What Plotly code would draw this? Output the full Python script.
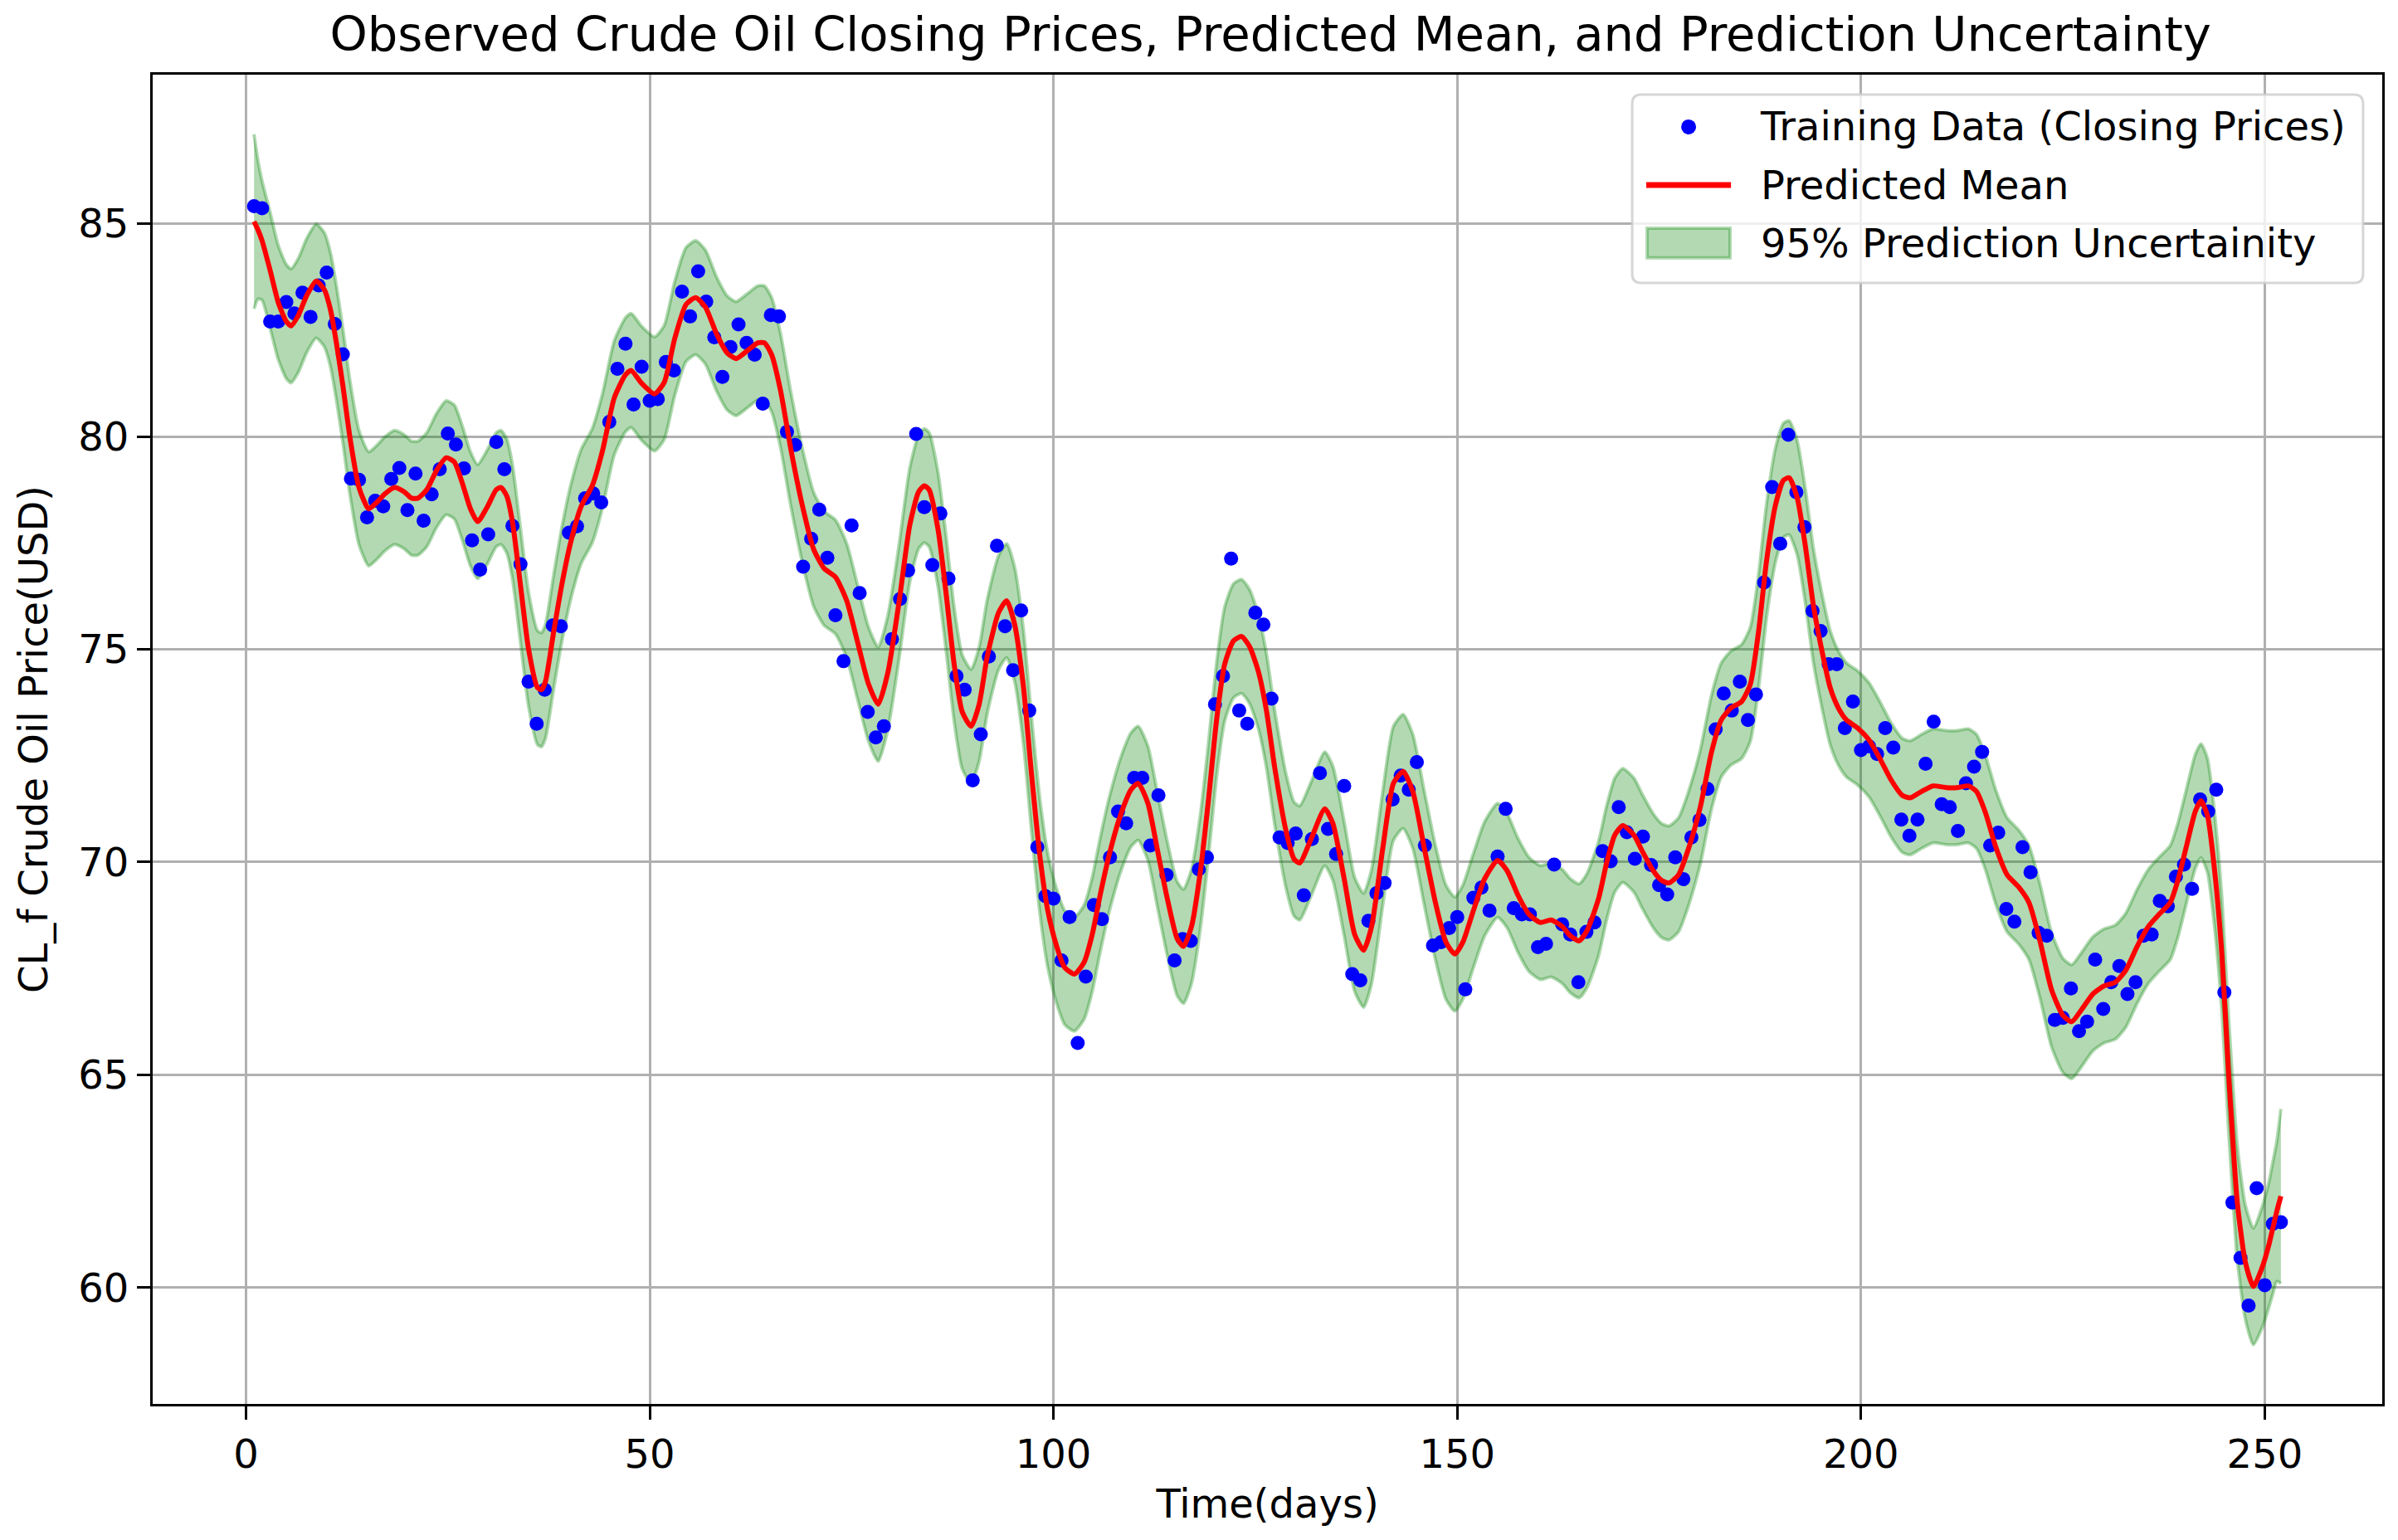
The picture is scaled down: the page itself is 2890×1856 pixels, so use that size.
import plotly.graph_objects as go

# ---------------- data ----------------
obs_days = list(range(1, 253))
obs_close = [
    85.41, 85.36, 82.70, 82.70, 83.16, 82.89, 83.38, 82.81, 83.55, 83.85,
    82.64, 81.93, 79.01, 78.98, 78.10, 78.49, 78.36, 79.00, 79.26, 78.27,
    79.13, 78.02, 78.64, 79.23, 80.07, 79.81, 79.25, 77.56, 76.87, 77.70,
    79.87, 79.23, 77.90, 77.00, 74.24, 73.25, 74.05, 75.56, 75.54, 77.74,
    77.89, 78.55, 78.66, 78.45, 80.34, 81.59, 82.18, 80.75, 81.64, 80.84,
    80.88, 81.75, 81.55, 83.40, 82.82, 83.88, 83.17, 82.33, 81.40, 82.10,
    82.63, 82.20, 81.92, 80.77, 82.85, 82.82, 80.11, 79.80, 76.94, 77.60,
    78.28, 77.15, 75.80, 74.72, 77.91, 76.32, 73.53, 72.93, 73.19, 75.24,
    76.18, 76.85, 80.06, 78.34, 76.98, 78.19, 76.66, 74.37, 74.05, 71.92,
    73.00, 74.83, 77.43, 75.54, 74.51, 75.91, 73.56, 70.35, 69.20, 69.14,
    67.69, 68.71, 65.75, 67.31, 68.99, 68.66, 70.11, 71.19, 70.91, 71.98,
    71.98, 70.39, 71.57, 69.70, 67.69, 68.19, 68.15, 69.83, 70.11, 73.71,
    74.37, 77.13, 73.56, 73.25, 75.86, 75.58, 73.84, 70.58, 70.45, 70.67,
    69.22, 70.54, 72.09, 70.78, 70.19, 71.79, 67.37, 67.22, 68.62, 69.27,
    69.51, 71.47, 72.03, 71.70, 72.35, 70.39, 68.04, 68.12, 68.45, 68.71,
    67.01, 69.16, 69.40, 68.86, 70.13, 71.25, 68.92, 68.77, 68.77, 68.00,
    68.08, 69.94, 68.54, 68.30, 67.18, 68.36, 68.58, 70.26, 70.02, 71.29,
    70.70, 70.08, 70.60, 69.93, 69.46, 69.24, 70.11, 69.60, 70.58, 70.99,
    71.72, 73.12, 73.96, 73.56, 74.24, 73.34, 73.94, 76.57, 78.81, 77.48,
    80.04, 78.69, 77.87, 75.90, 75.43, 74.65, 74.65, 73.15, 73.77, 72.63,
    72.72, 72.54, 73.15, 72.69, 71.00, 70.62, 71.00, 72.31, 73.30, 71.36,
    71.29, 70.73, 71.85, 72.24, 72.59, 70.39, 70.69, 68.90, 68.60, 70.35,
    69.76, 68.34, 68.27, 66.29, 66.34, 67.03, 66.03, 66.25, 67.71, 66.55,
    67.18, 67.56, 66.90, 67.18, 68.27, 68.30, 69.09, 68.96, 69.66, 69.94,
    69.37, 71.47, 71.19, 71.70, 66.94, 62.00, 60.70, 59.58, 62.34, 60.06,
    61.50, 61.54,
]

pred_days = [
    1.0, 1.5, 2.0, 3.0, 4.0, 5.0, 5.6, 6.5, 7.5, 8.7, 9.7, 10.5, 11.2, 12.0, 12.9,
    14.0, 15.2, 16.2, 17.2, 18.4, 19.6, 20.5, 21.3, 22.4, 23.6, 24.8, 25.8, 26.8,
    27.8, 28.7, 29.9, 31.0, 31.6, 32.3, 33.0, 34.0, 35.0, 36.1, 36.6, 37.1, 38.1,
    39.1, 40.2, 41.5, 42.9, 44.2, 45.6, 47.0, 47.7, 49.0, 50.6, 51.8, 53.1, 54.5,
    55.7, 56.9, 58.3, 59.6, 60.7, 62.0, 63.4, 64.2, 65.1, 66.2, 67.5, 68.9, 70.3,
    71.6, 73.0, 74.4, 75.7, 77.1, 78.3, 79.5, 80.9, 82.2, 83.3, 84.0, 84.6, 85.7,
    86.7, 87.7, 88.7, 89.8, 90.8, 91.8, 93.2, 94.2, 95.2, 96.3, 97.3, 98.3, 99.3,
    100.4, 101.4, 102.6, 103.8, 104.8, 105.8, 106.9, 108.3, 109.6, 110.5, 111.7,
    112.9, 114.1, 115.3, 116.1, 117.1, 118.2, 119.2, 120.2, 121.2, 122.3, 123.3,
    124.3, 125.4, 126.4, 127.4, 128.8, 129.8, 130.5, 131.9, 133.6, 134.6, 136.0,
    137.3, 138.4, 139.4, 140.8, 142.1, 143.3, 144.5, 145.9, 147.3, 148.6, 149.7,
    150.7, 152.0, 153.4, 155.0, 156.2, 157.5, 158.9, 160.3, 161.6, 163.0, 164.0,
    165.1, 166.1, 167.5, 168.5, 169.5, 170.5, 171.9, 172.9, 174.3, 175.3, 176.2,
    177.4, 178.7, 180.1, 181.5, 182.7, 183.9, 185.2, 186.3, 187.3, 188.3, 189.4,
    190.4, 191.1, 192.1, 193.1, 194.1, 195.2, 196.2, 197.2, 198.2, 199.6, 201.0,
    202.4, 203.7, 205.1, 206.1, 207.5, 208.9, 210.6, 211.9, 213.3, 214.3, 215.4,
    216.7, 218.1, 219.5, 220.8, 222.2, 223.6, 225.0, 226.1, 227.3, 228.7, 230.1,
    231.5, 232.8, 234.2, 235.6, 236.9, 238.3, 239.3, 240.4, 241.4, 242.1, 242.9,
    243.8, 244.7, 245.5, 246.0, 246.6, 247.6, 248.6, 249.7, 250.5, 251.0, 251.5,
    252.0,
]
pred_mean = [
    85.05, 84.85, 84.60, 83.90, 83.15, 82.70, 82.60, 82.85, 83.30, 83.65, 83.45, 82.95, 82.20, 81.20, 79.95,
    78.80, 78.30, 78.45, 78.65, 78.80, 78.70, 78.55, 78.55, 78.75, 79.20, 79.50, 79.40, 78.90,
    78.30, 78.00, 78.35, 78.75, 78.80, 78.60, 78.00, 76.50, 75.00, 74.10, 74.05, 74.25, 75.40,
    76.50, 77.50, 78.35, 78.85, 79.70, 80.90, 81.45, 81.55, 81.25, 81.00, 81.27, 82.30, 83.10,
    83.26, 83.04, 82.40, 81.96, 81.83, 82.00, 82.20, 82.20, 81.92, 81.08, 79.68, 78.38, 77.35,
    76.90, 76.70, 76.14, 75.20, 74.18, 73.71, 74.46, 76.14, 77.91, 78.70, 78.84, 78.75, 77.82,
    76.32, 74.65, 73.53, 73.19, 73.71, 74.83, 75.86, 76.14, 75.58, 74.09, 72.03, 70.17, 68.86,
    68.02, 67.52, 67.37, 67.65, 68.30, 69.24, 70.17, 71.10, 71.70, 71.85, 71.38,
    70.26, 69.14, 68.21, 68.02, 68.49, 69.79, 71.47, 73.34, 74.65, 75.20, 75.30,
    75.06, 74.46, 73.53, 72.22, 70.73, 70.07, 69.98, 70.54, 71.25, 70.91, 69.61,
    68.30, 67.93, 68.49, 70.35, 71.85, 72.13, 71.66, 70.35, 69.05, 68.12, 67.84,
    68.12, 68.86, 69.61, 70.04, 69.79, 69.23, 68.77, 68.58, 68.64, 68.49, 68.27,
    68.15, 68.40, 69.14, 69.98, 70.63, 70.86, 70.63, 70.26, 69.79, 69.57, 69.51,
    69.70, 70.35, 71.29, 72.59, 73.34, 73.62, 73.77, 74.18, 75.39, 77.07, 78.38,
    78.97, 79.03, 78.56, 77.44, 76.04, 74.93, 74.09, 73.62, 73.34, 73.15, 72.87,
    72.41, 71.94, 71.57, 71.51, 71.66, 71.79, 71.75, 71.75, 71.79, 71.66, 71.17,
    70.35, 69.70, 69.42, 69.05, 68.12, 67.00, 66.40, 66.25, 66.53, 66.90, 67.09,
    67.18, 67.46, 68.02, 68.49, 68.77, 69.05, 69.61, 70.45, 71.19, 71.44, 71.10,
    69.79, 67.80, 65.10, 63.60, 62.00, 60.60, 60.03, 60.49, 61.00, 61.40, 61.80,
    62.15,
]
pred_upper = [
    87.10, 86.47, 86.00, 85.26, 84.49, 84.04, 83.94, 84.19, 84.64, 84.99, 84.79, 84.29, 83.54, 82.54, 81.29,
    80.14, 79.64, 79.79, 79.99, 80.14, 80.04, 79.89, 79.89, 80.09, 80.54, 80.84, 80.74, 80.24,
    79.64, 79.34, 79.69, 80.09, 80.14, 79.94, 79.34, 77.84, 76.34, 75.44, 75.39, 75.59, 76.74,
    77.84, 78.84, 79.69, 80.19, 81.04, 82.24, 82.79, 82.89, 82.59, 82.34, 82.61, 83.64, 84.44,
    84.60, 84.38, 83.74, 83.30, 83.17, 83.34, 83.54, 83.54, 83.26, 82.42, 81.02, 79.72, 78.69,
    78.24, 78.04, 77.48, 76.54, 75.52, 75.05, 75.80, 77.48, 79.25, 80.04, 80.18, 80.09, 79.16,
    77.66, 75.99, 74.87, 74.53, 75.05, 76.17, 77.20, 77.48, 76.92, 75.43, 73.37, 71.51, 70.20,
    69.36, 68.86, 68.71, 68.99, 69.64, 70.58, 71.51, 72.44, 73.04, 73.19, 72.72,
    71.60, 70.48, 69.55, 69.36, 69.83, 71.13, 72.81, 74.68, 75.99, 76.54, 76.64,
    76.40, 75.80, 74.87, 73.56, 72.07, 71.41, 71.32, 71.88, 72.59, 72.25, 70.95,
    69.64, 69.27, 69.83, 71.69, 73.19, 73.47, 73.00, 71.69, 70.39, 69.46, 69.18,
    69.46, 70.20, 70.95, 71.38, 71.13, 70.57, 70.11, 69.92, 69.98, 69.83, 69.61,
    69.49, 69.74, 70.48, 71.32, 71.97, 72.20, 71.97, 71.60, 71.13, 70.91, 70.85,
    71.04, 71.69, 72.63, 73.93, 74.68, 74.96, 75.11, 75.52, 76.73, 78.41, 79.72,
    80.31, 80.37, 79.90, 78.78, 77.38, 76.27, 75.43, 74.96, 74.68, 74.49, 74.21,
    73.75, 73.28, 72.91, 72.85, 73.00, 73.13, 73.09, 73.09, 73.13, 73.00, 72.51,
    71.69, 71.04, 70.76, 70.39, 69.46, 68.34, 67.74, 67.59, 67.87, 68.24, 68.43,
    68.52, 68.80, 69.36, 69.83, 70.11, 70.39, 70.95, 71.79, 72.53, 72.78, 72.44,
    71.13, 69.14, 66.44, 64.94, 63.34, 61.94, 61.40, 61.91, 62.47, 62.95, 63.45,
    64.20,
]
pred_lower = [
    83.00, 83.23, 83.20, 82.54, 81.81, 81.36, 81.26, 81.51, 81.96, 82.31, 82.11, 81.61, 80.86, 79.86, 78.61,
    77.46, 76.96, 77.11, 77.31, 77.46, 77.36, 77.21, 77.21, 77.41, 77.86, 78.16, 78.06, 77.56,
    76.96, 76.66, 77.01, 77.41, 77.46, 77.26, 76.66, 75.16, 73.66, 72.76, 72.71, 72.91, 74.06,
    75.16, 76.16, 77.01, 77.51, 78.36, 79.56, 80.11, 80.21, 79.91, 79.66, 79.93, 80.96, 81.76,
    81.92, 81.70, 81.06, 80.62, 80.49, 80.66, 80.86, 80.86, 80.58, 79.74, 78.34, 77.04, 76.01,
    75.56, 75.36, 74.80, 73.86, 72.84, 72.37, 73.12, 74.80, 76.57, 77.36, 77.50, 77.41, 76.48,
    74.98, 73.31, 72.19, 71.85, 72.37, 73.49, 74.52, 74.80, 74.24, 72.75, 70.69, 68.83, 67.52,
    66.68, 66.18, 66.03, 66.31, 66.96, 67.90, 68.83, 69.76, 70.36, 70.51, 70.04,
    68.92, 67.80, 66.87, 66.68, 67.15, 68.45, 70.13, 72.00, 73.31, 73.86, 73.96,
    73.72, 73.12, 72.19, 70.88, 69.39, 68.73, 68.64, 69.20, 69.91, 69.57, 68.27,
    66.96, 66.59, 67.15, 69.01, 70.51, 70.79, 70.32, 69.01, 67.71, 66.78, 66.50,
    66.78, 67.52, 68.27, 68.70, 68.45, 67.89, 67.43, 67.24, 67.30, 67.15, 66.93,
    66.81, 67.06, 67.80, 68.64, 69.29, 69.52, 69.29, 68.92, 68.45, 68.23, 68.17,
    68.36, 69.01, 69.95, 71.25, 72.00, 72.28, 72.43, 72.84, 74.05, 75.73, 77.04,
    77.63, 77.69, 77.22, 76.10, 74.70, 73.59, 72.75, 72.28, 72.00, 71.81, 71.53,
    71.07, 70.60, 70.23, 70.17, 70.32, 70.45, 70.41, 70.41, 70.45, 70.32, 69.83,
    69.01, 68.36, 68.08, 67.71, 66.78, 65.66, 65.06, 64.91, 65.19, 65.56, 65.75,
    65.84, 66.12, 66.68, 67.15, 67.43, 67.71, 68.27, 69.11, 69.85, 70.10, 69.76,
    68.45, 66.46, 63.76, 62.26, 60.66, 59.26, 58.66, 59.07, 59.53, 59.85, 60.15,
    60.10,
]

x_ticks = [0, 50, 100, 150, 200, 250]
y_ticks = [60, 65, 70, 75, 80, 85]

TITLE = "Observed Crude Oil Closing Prices, Predicted Mean, and Prediction Uncertainty"
X_LABEL = "Time(days)"
Y_LABEL = "CL_f Crude Oil Price(USD)"
NAME_OBS = "Training Data (Closing Prices)"
NAME_MEAN = "Predicted Mean"
NAME_BAND = "95% Prediction Uncertainity"
FONT = "DejaVu Sans"
BAND_FILL = "rgba(0,128,0,0.3)"
DOT_COLOR = "#0000ff"
MEAN_COLOR = "#ff0000"

# ---------------- figure ----------------
fig = go.Figure()

band_line = dict(color=BAND_FILL, width=4, shape="spline", smoothing=0.6)

fig.add_trace(go.Scatter(
    x=pred_days, y=pred_lower, mode="lines", line=band_line,
    showlegend=False, hoverinfo="skip",
))
fig.add_trace(go.Scatter(
    x=pred_days, y=pred_upper, mode="lines", line=band_line,
    fill="tonexty", fillcolor=BAND_FILL,
    showlegend=False, hoverinfo="skip",
))
fig.add_trace(go.Scatter(
    x=obs_days, y=obs_close, mode="markers",
    marker=dict(color=DOT_COLOR, size=17, line=dict(width=0)),
    name=NAME_OBS, showlegend=False,
))
fig.add_trace(go.Scatter(
    x=pred_days, y=pred_mean, mode="lines",
    line=dict(color=MEAN_COLOR, width=6, shape="spline", smoothing=0.6),
    name=NAME_MEAN, showlegend=False,
))
# legend text entries (their swatches are drawn as matplotlib-style shapes below)
for rank, name in enumerate([NAME_OBS, NAME_MEAN, NAME_BAND], start=1):
    fig.add_trace(go.Scatter(
        x=[None], y=[None], mode="lines", line=dict(color="rgba(0,0,0,0)", width=1),
        name=name, legendrank=rank, legendgroup=f"g{rank}",
    ))

axis_common = dict(
    showline=True, linecolor="black", linewidth=3, mirror=True,
    ticks="outside", ticklen=16, tickwidth=3, tickcolor="black",
    showgrid=True, gridcolor="#b0b0b0", gridwidth=3,
    zeroline=False, automargin=False,
    tickfont=dict(family=FONT, size=48, color="black"),
)

# legend frame (rounded) and swatches, in plot-area paper coordinates
fx0, fx1, fy0, fy1 = 0.6636, 0.9914, 0.8433, 0.9850
rx, ry = 0.0040, 0.0067
frame_path = (
    f"M{fx0+rx},{fy1} L{fx1-rx},{fy1} Q{fx1},{fy1} {fx1},{fy1-ry} "
    f"L{fx1},{fy0+ry} Q{fx1},{fy0} {fx1-rx},{fy0} "
    f"L{fx0+rx},{fy0} Q{fx0},{fy0} {fx0},{fy0+ry} "
    f"L{fx0},{fy1-ry} Q{fx0},{fy1} {fx0+rx},{fy1} Z"
)
dot_cx, dot_cy, dot_rx, dot_ry = 0.6889, 0.9607, 0.00335, 0.00562

fig.update_layout(
    width=2882, height=1848,
    margin=dict(l=176, r=19, t=82, b=164),
    paper_bgcolor="white", plot_bgcolor="white",
    font=dict(family=FONT, size=48, color="black"),
    title=dict(text=TITLE, x=0.5285, xanchor="center", y=0.9824, yanchor="middle",
               font=dict(family=FONT, size=57.6, color="black")),
    xaxis=dict(range=[-11.55, 264.55], tickvals=x_ticks,
               title=dict(text=X_LABEL, font=dict(family=FONT, size=48), standoff=17),
               **axis_common),
    yaxis=dict(range=[57.27, 88.5], tickvals=y_ticks,
               title=dict(text=Y_LABEL, font=dict(family=FONT, size=48), standoff=22),
               **axis_common),
    legend=dict(
        x=0.6736, xanchor="left", y=0.9857, yanchor="top",
        bgcolor="rgba(0,0,0,0)", borderwidth=0,
        font=dict(family=FONT, size=48, color="black"),
        itemwidth=118, traceorder="grouped", tracegroupgap=5,
    ),
    shapes=[
        dict(type="path", path=frame_path, xref="paper", yref="paper", layer="above",
             fillcolor="rgba(255,255,255,0.8)", line=dict(color="rgba(204,204,204,0.8)", width=3)),
        dict(type="circle", xref="paper", yref="paper", layer="above",
             x0=dot_cx - dot_rx, x1=dot_cx + dot_rx, y0=dot_cy - dot_ry, y1=dot_cy + dot_ry,
             fillcolor=DOT_COLOR, line=dict(width=0)),
        dict(type="line", xref="paper", yref="paper", layer="above",
             x0=0.6699, x1=0.7079, y0=0.9170, y1=0.9170,
             line=dict(color=MEAN_COLOR, width=7)),
        dict(type="rect", xref="paper", yref="paper", layer="above",
             x0=0.6703, x1=0.7075, y0=0.8622, y1=0.8845,
             fillcolor=BAND_FILL, line=dict(color=BAND_FILL, width=4)),
    ],
    showlegend=True,
)

fig.write_html("out.html")
